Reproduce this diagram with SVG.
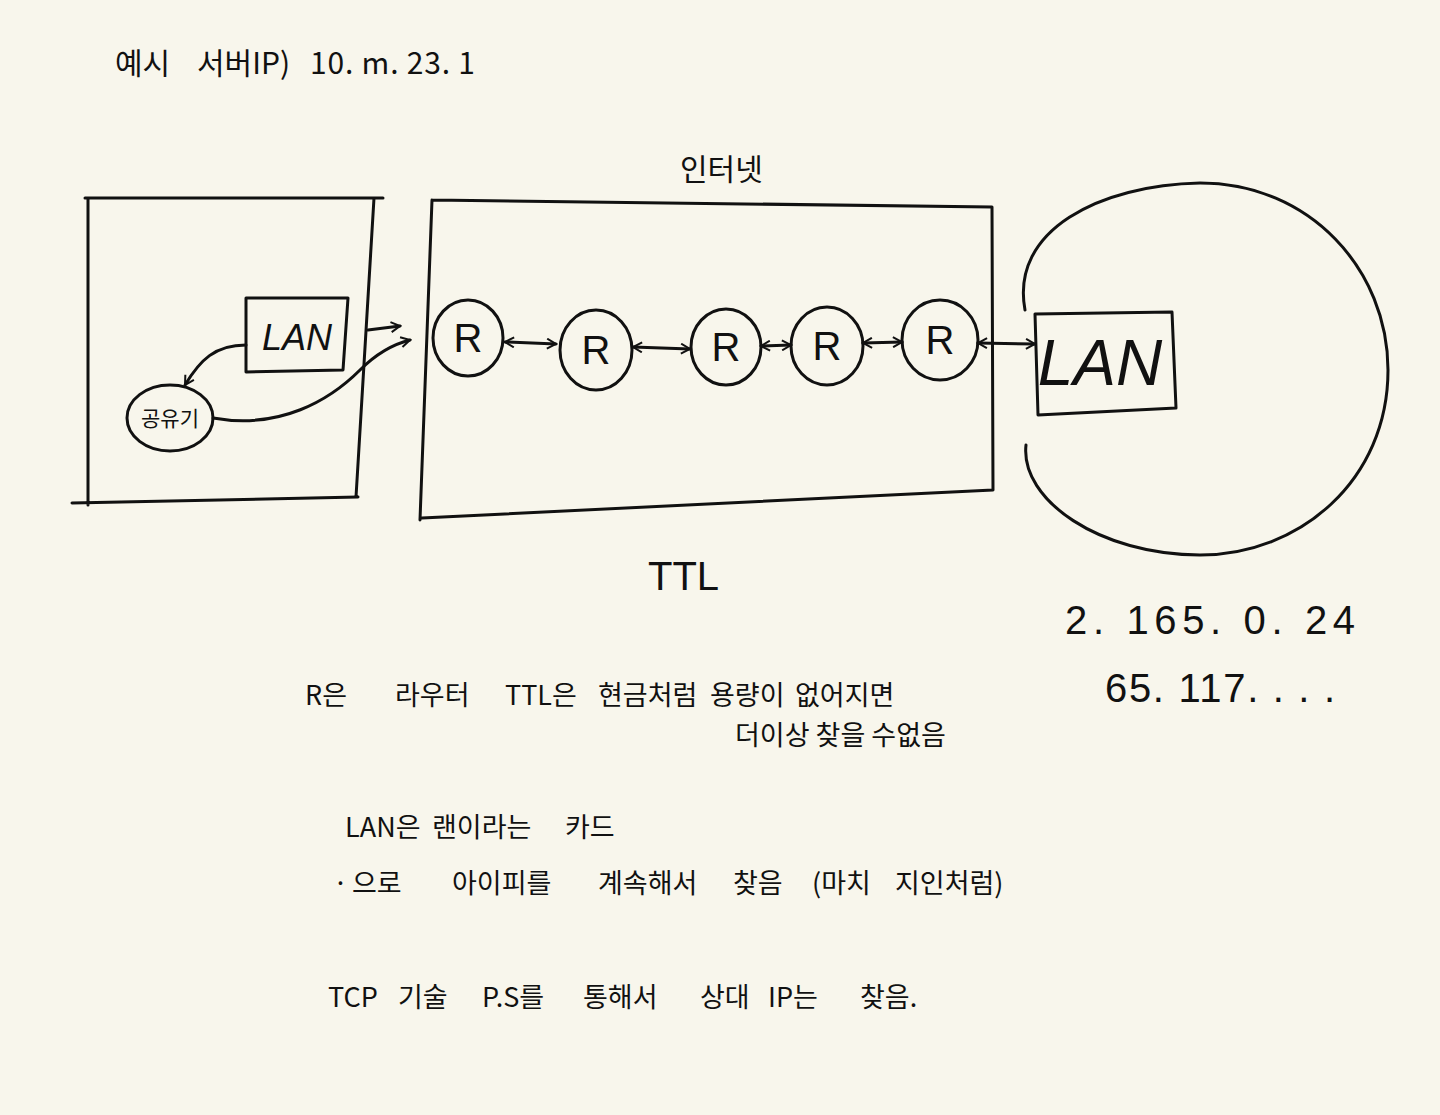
<svg xmlns="http://www.w3.org/2000/svg" width="1440" height="1115" viewBox="0 0 1440 1115">
<defs>
<style>
.s{fill:none;stroke:#111;stroke-width:3;stroke-linecap:round;stroke-linejoin:round}
.t{font-family:"Noto Sans CJK KR","Liberation Sans",sans-serif;fill:#111;font-size:27px}
.n{font-family:"Liberation Sans","Noto Sans CJK KR",sans-serif;fill:#111}
</style>
<marker id="a" viewBox="0 0 12 12" refX="10" refY="6" markerWidth="12" markerHeight="12" markerUnits="userSpaceOnUse" orient="auto-start-reverse">
<path d="M1,1 L10,6 L1,11" fill="none" stroke="#111" stroke-width="2"/>
</marker>
</defs>
<rect width="1440" height="1115" fill="#f8f6ec"/>
<text class="t" y="74" style="font-size:30px"><tspan x="115">예시 </tspan><tspan x="197">서버IP) </tspan><tspan x="310" textLength="165" lengthAdjust="spacing">10. m. 23. 1</tspan></text>
<text class="t" x="680" y="180" style="font-size:30px">인터넷</text>

<g id="client-area">
<path class="s" d="M85,198 L383,198 M88,198 L88,505 M72,503 L358,497 M374,198 L356,497"/>
</g>
<g id="lan-left">
<path class="s" d="M246,298 L348,298 L343,370 L246,372 Z"/>
<text class="n" x="297" y="350" font-size="36" text-anchor="middle" font-style="italic">LAN</text>
</g>
<g id="router-home">
<ellipse class="s" cx="170" cy="418" rx="43" ry="33"/>
<text class="t" x="170" y="426" style="font-size:21px" text-anchor="middle">공유기</text>
</g>
<g id="internet">
<path class="s" d="M432,200 L992,207 L993,490 L422,518 M432,200 L420,520"/>
</g>
<g id="r1"><ellipse class="s" cx="468" cy="338" rx="35" ry="38"/><text class="n" x="468" y="352" font-size="40" text-anchor="middle">R</text></g>
<g id="r2"><ellipse class="s" cx="596" cy="350" rx="36" ry="40"/><text class="n" x="596" y="364" font-size="40" text-anchor="middle">R</text></g>
<g id="r3"><ellipse class="s" cx="726" cy="347" rx="35" ry="38"/><text class="n" x="726" y="361" font-size="40" text-anchor="middle">R</text></g>
<g id="r4"><ellipse class="s" cx="827" cy="346" rx="36" ry="39"/><text class="n" x="827" y="360" font-size="40" text-anchor="middle">R</text></g>
<g id="r5"><ellipse class="s" cx="940" cy="340" rx="38" ry="40"/><text class="n" x="940" y="354" font-size="40" text-anchor="middle">R</text></g>
<g id="lan-right">
<path class="s" d="M1035,314 L1172,312 L1176,408 L1038,415 Z"/>
<text class="n" x="1100" y="385" font-size="64" text-anchor="middle" font-style="italic">LAN</text>
</g>
<g id="remote-area">
<path class="s" d="M1025,310 C1010,230 1100,185 1200,183 C1310,183 1388,270 1388,370 C1388,480 1300,555 1200,555 C1100,555 1020,500 1026,445"/>
</g>
<g id="connectors">
<path class="s" d="M246,345 C215,345 200,360 185,385" marker-end="url(#a)"/>
<path class="s" d="M213,418 C280,430 330,400 360,370 C375,355 390,345 410,340" marker-end="url(#a)"/>
<path class="s" d="M368,330 L400,326" marker-end="url(#a)"/>
<path class="s" d="M505,342 L556,344" marker-start="url(#a)" marker-end="url(#a)"/>
<path class="s" d="M633,347 L690,349" marker-start="url(#a)" marker-end="url(#a)"/>
<path class="s" d="M761,346 L791,345" marker-start="url(#a)" marker-end="url(#a)"/>
<path class="s" d="M863,343 L902,342" marker-start="url(#a)" marker-end="url(#a)"/>
<path class="s" d="M978,343 L1035,344" marker-start="url(#a)" marker-end="url(#a)"/>
</g>
<text class="n" x="648" y="590" font-size="40">TTL</text>
<text class="n" x="1065" y="634" font-size="40" textLength="290" lengthAdjust="spacing">2. 165. 0. 24</text>
<text class="n" x="1105" y="702" font-size="40" textLength="230" lengthAdjust="spacing">65. 117. . . .</text>
<text class="t" y="705"><tspan x="305">R은 </tspan><tspan x="395">라우터 </tspan><tspan x="505">TTL은 </tspan><tspan x="598">현금처럼 </tspan><tspan x="710">용량이 </tspan><tspan x="795">없어지면</tspan></text>
<text class="t" x="735" y="745">더이상 찾을 수없음</text>
<text class="t" y="837"><tspan x="345">LAN은 </tspan><tspan x="432">랜이라는 </tspan><tspan x="565">카드</tspan></text>
<text class="t" y="893"><tspan x="333">· </tspan><tspan x="352">으로 </tspan><tspan x="452">아이피를 </tspan><tspan x="598">계속해서 </tspan><tspan x="733">찾음 </tspan><tspan x="812">(마치 </tspan><tspan x="895">지인처럼)</tspan></text>
<text class="t" y="1007"><tspan x="328">TCP </tspan><tspan x="398">기술 </tspan><tspan x="482">P.S를 </tspan><tspan x="583">통해서 </tspan><tspan x="700">상대 </tspan><tspan x="768">IP는 </tspan><tspan x="860">찾음.</tspan></text>
</svg>
